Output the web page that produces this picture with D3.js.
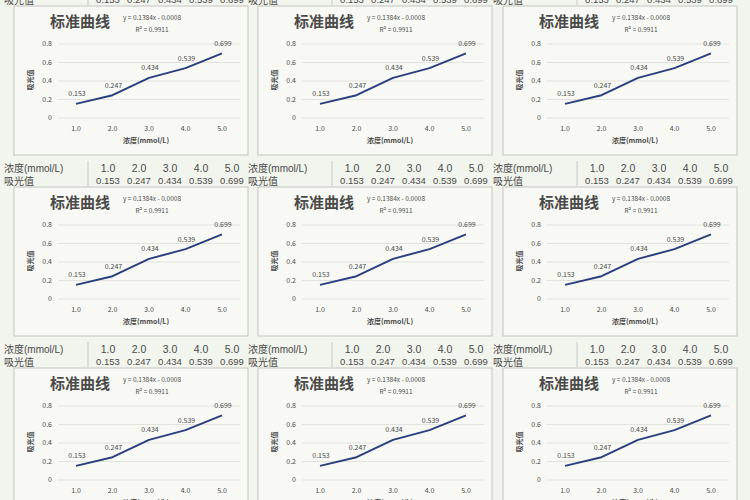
<!DOCTYPE html>
<html>
<head>
<meta charset="utf-8">
<script src="https://cdn.jsdelivr.net/npm/d3@7"></script>
<style>
  body { margin: 0; background: #f2f4ee; }
  svg { display: block; }
  text { font-family: "Noto Sans CJK SC", "Noto Sans", sans-serif; fill: #4a4a4a; }
  .tbl { font-family: "Liberation Sans", "Noto Sans CJK SC", sans-serif; }
</style>
</head>
<body>
<div id="ChartContainer"></div>
<script>
// data
var concentrations = ["1.0", "2.0", "3.0", "4.0", "5.0"]
var absorbance = [0.153, 0.247, 0.434, 0.539, 0.699]
var yTicks = [0, 0.2, 0.4, 0.6, 0.8]
var chartTitle = "标准曲线"
var equation = "y = 0.1384x - 0.0008"
var rSquared = "R² = 0.9911"
var xTitle = "浓度(mmol/L)"
var yTitle = "吸光值"
var rowLabels = ["浓度(mmol/L)", "吸光值"]

var fullWidth = 750
var fullHeight = 500
var colOffsets = [0, 244, 489]
var rowOffsets = [0, 181, 362]

var svg = d3.select("#ChartContainer").append("svg")
  .attr("width", fullWidth)
  .attr("height", fullHeight)

svg.append("rect")
  .attr("width", fullWidth)
  .attr("height", fullHeight)
  .attr("fill", "#f2f4ee")

// scales in panel-local coordinates
var x = d3.scalePoint().domain(concentrations).range([76, 222])
var y = d3.scaleLinear().domain([0, 0.8]).range([118, 44])
var tableX = d3.scalePoint().domain(concentrations).range([108, 232])

function drawPanel(g) {
  // two-row table above the chart
  g.append("line")
    .attr("x1", 88).attr("x2", 88)
    .attr("y1", -20).attr("y2", 5)
    .attr("stroke", "#c8c8c4")
  rowLabels.forEach(function (label, i) {
    var ty = -13 + i * 13
    g.append("text")
      .attr("class", "tbl")
      .attr("x", 4).attr("y", ty)
      .attr("dy", "0.35em")
      .attr("font-size", 10)
      .attr("fill", "#555")
      .text(label)
    g.selectAll(".cell" + i)
      .data(concentrations)
      .enter().append("text")
      .attr("class", "tbl")
      .attr("x", function (d) { return tableX(d) })
      .attr("y", ty)
      .attr("dy", "0.35em")
      .attr("text-anchor", "middle")
      .attr("font-size", i === 0 ? 10.5 : 9.5)
      .attr("fill", "#555")
      .text(function (d, j) { return i === 0 ? d : d3.format(".3f")(absorbance[j]) })
  })

  // chart frame
  g.append("rect")
    .attr("x", 14).attr("y", 6)
    .attr("width", 234).attr("height", 149)
    .attr("fill", "#f8f9f5")
    .attr("stroke", "#c4c4c0")

  g.append("text")
    .attr("x", 80).attr("y", 22)
    .attr("dy", "0.35em")
    .attr("text-anchor", "middle")
    .attr("font-size", 15)
    .attr("font-weight", "bold")
    .attr("fill", "#3a3a3a")
    .text(chartTitle)

  g.append("text")
    .attr("x", 152).attr("y", 18)
    .attr("dy", "0.35em")
    .attr("text-anchor", "middle")
    .attr("font-size", 6.5)
    .text(equation)
  g.append("text")
    .attr("x", 152).attr("y", 30)
    .attr("dy", "0.35em")
    .attr("text-anchor", "middle")
    .attr("font-size", 6.5)
    .text(rSquared)

  // gridlines and y axis labels
  g.selectAll(".grid")
    .data(yTicks)
    .enter().append("line")
    .attr("x1", 58).attr("x2", 240)
    .attr("y1", function (d) { return y(d) })
    .attr("y2", function (d) { return y(d) })
    .attr("stroke", "#e2e3de")
  g.selectAll(".ytick")
    .data(yTicks)
    .enter().append("text")
    .attr("x", 52)
    .attr("y", function (d) { return y(d) })
    .attr("dy", "0.35em")
    .attr("text-anchor", "end")
    .attr("font-size", 7)
    .text(function (d) { return d === 0 ? "0" : d3.format(".1f")(d) })

  g.selectAll(".xtick")
    .data(concentrations)
    .enter().append("text")
    .attr("x", function (d) { return x(d) })
    .attr("y", 129)
    .attr("dy", "0.35em")
    .attr("text-anchor", "middle")
    .attr("font-size", 7)
    .text(function (d) { return d })

  g.append("text")
    .attr("x", 146).attr("y", 141)
    .attr("dy", "0.35em")
    .attr("text-anchor", "middle")
    .attr("font-size", 7)
    .attr("font-weight", "bold")
    .text(xTitle)

  g.append("text")
    .attr("transform", "translate(31,80) rotate(-90)")
    .attr("dy", "0.35em")
    .attr("text-anchor", "middle")
    .attr("font-size", 7)
    .attr("font-weight", "bold")
    .text(yTitle)

  // the curve
  var line = d3.line()
    .x(function (d, i) { return x(concentrations[i]) })
    .y(function (d) { return y(d) })
  g.append("path")
    .datum(absorbance)
    .attr("d", line)
    .attr("fill", "none")
    .attr("stroke", "#2b3f7e")
    .attr("stroke-width", 2)
    .attr("stroke-linejoin", "round")

  g.selectAll(".dlabel")
    .data(absorbance)
    .enter().append("text")
    .attr("x", function (d, i) { return x(concentrations[i]) + 1 })
    .attr("y", function (d) { return y(d) - 10 })
    .attr("dy", "0.35em")
    .attr("text-anchor", "middle")
    .attr("font-size", 7)
    .text(function (d) { return d3.format(".3f")(d) })
}

rowOffsets.forEach(function (ry) {
  colOffsets.forEach(function (cx) {
    drawPanel(svg.append("g").attr("transform", "translate(" + cx + "," + ry + ")"))
  })
})
</script>
</body>
</html>
